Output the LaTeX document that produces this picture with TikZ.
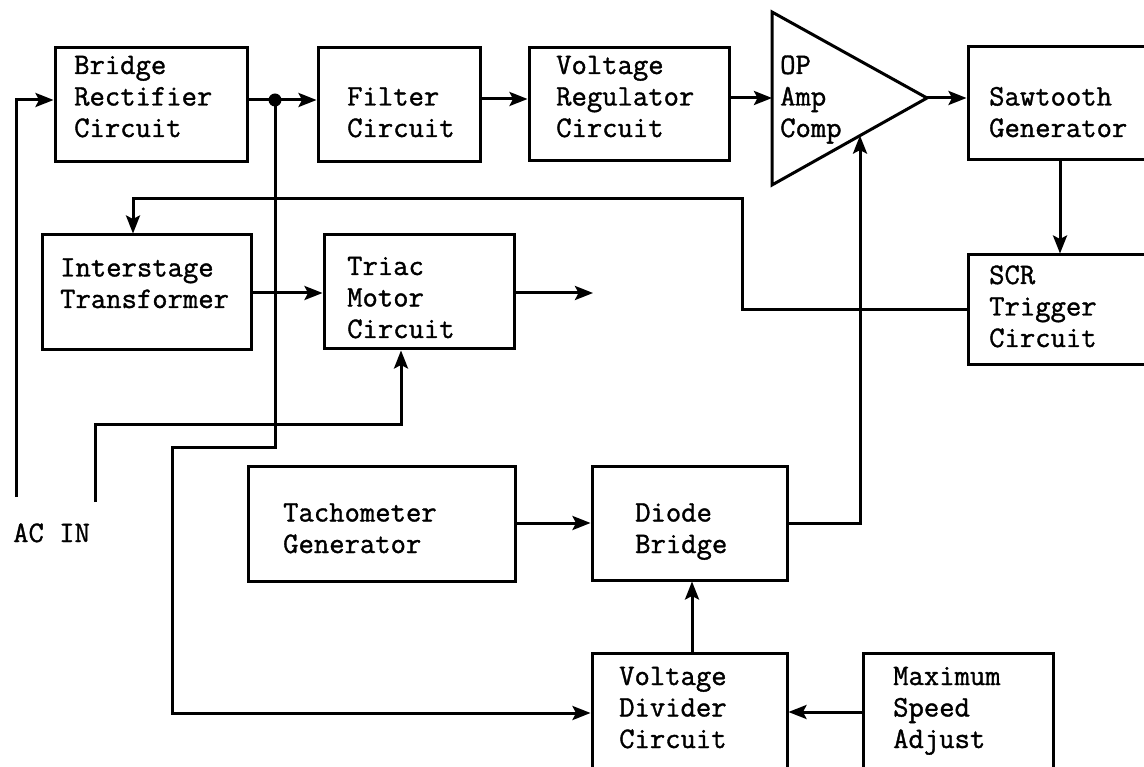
\documentclass[tikz,border=0pt]{standalone}
\usepackage{fontspec}
\newfontfamily\twfont{Latin Modern Mono}[FakeBold=1.2]
\usetikzlibrary{arrows.meta}
\tikzset{
  box/.style={draw, line width=3pt, inner sep=0pt, rectangle},
  lbl/.style={font=\twfont\fontsize{29.8}{31.5}\selectfont, align=left, anchor=base west, inner sep=0pt},
  conn/.style={line width=3pt},
  arr/.style={conn, -{Stealth[length=18pt,width=14pt,inset=3.5pt]}},
}
\begin{document}
\begin{tikzpicture}[x=1pt,y=-1pt]
\useasboundingbox (0,0) rectangle (1144,767);
% boxes
\node[box, minimum width=192pt, minimum height=114pt] (br) at (151,105) {};
\node[box, minimum width=162pt, minimum height=114pt] (fi) at (399,105) {};
\node[box, minimum width=200pt, minimum height=113pt] (vr) at (629,104.5) {};
\node[box, minimum width=192pt, minimum height=113pt] (st) at (1064,103.5) {};
\node[box, minimum width=192pt, minimum height=110pt] (scr) at (1064,310) {};
\node[box, minimum width=209pt, minimum height=115pt] (it) at (146.5,292.5) {};
\node[box, minimum width=190pt, minimum height=114pt] (tr) at (419,292) {};
\node[box, minimum width=267pt, minimum height=115pt] (tg) at (381.5,523.5) {};
\node[box, minimum width=195pt, minimum height=114pt] (db) at (689.5,523) {};
\node[box, minimum width=195pt, minimum height=137pt] (vd) at (689.5,721.5) {};
\node[box, minimum width=190pt, minimum height=137pt] (ms) at (958,721.5) {};
% op amp triangle
\coordinate (opTop) at (772,12);
\coordinate (opBotL) at (772,185);
\coordinate (opOut) at (927,98);
\coordinate (opIn) at (772,98);
\coordinate (opBot) at (860,135.6);
\draw[line width=3pt, line join=miter] (opTop) -- (opOut) -- (opBotL) -- cycle;
% texts (anchor = baseline of last line)
\node[lbl] (tbr) at (74,137) {Bridge\\Rectifier\\Circuit};
\node[lbl] (tfi) at (347,137) {Filter\\Circuit};
\node[lbl] (tvr) at (556,137) {Voltage\\Regulator\\Circuit};
\node[lbl] (top) at (780,137) {OP\\Amp\\Comp};
\node[lbl] (tst) at (989,137) {Sawtooth\\Generator};
\node[lbl] (tit) at (60,308) {Interstage\\Transformer};
\node[lbl] (ttr) at (347,338) {Triac\\Motor\\Circuit};
\node[lbl] (tscr) at (989,347) {SCR\\Trigger\\Circuit};
\node[lbl] (ttg) at (283,553) {Tachometer\\Generator};
\node[lbl] (tdb) at (635,553) {Diode\\Bridge};
\node[lbl] (tvd) at (619,748) {Voltage\\Divider\\Circuit};
\node[lbl] (tms) at (893,748) {Maximum\\Speed\\Adjust};
\node[lbl] (tac) at (13,542) {AC IN};
% helper coordinates
\coordinate (j) at (275,100);
\coordinate (ac1) at (16,497);
\coordinate (ac2) at (95,502);
\coordinate (sx) at (1060,0);
\coordinate (fb1) at (742,199);
\coordinate (fb2) at (133,199);
\coordinate (out) at (593,293);
\coordinate (jd1) at (275,447);
\coordinate (jd2) at (172,447);
\coordinate (jd3) at (172,713);
\coordinate (acr) at (95,425);
\coordinate (dbx) at (860,523);
% connectors
\draw[arr] (ac1) |- (br.west |- j);
\draw[arr] (br.east |- j) -- (fi.west |- j);
\fill (j) circle (6.5pt);
\draw[arr] (fi.east |- 0,99) -- (vr.west |- 0,99);
\draw[arr] (vr.east |- opIn) -- (opIn);
\draw[arr] (opOut) -- (st.west |- opOut);
\draw[arr] (st.south -| sx) -- (scr.north -| sx);
\draw[arr] (scr.west) -| (fb1) -- (fb2) -- (it.north -| fb2);
\draw[arr] (it.east |- out) -- (tr.west |- out);
\draw[arr] (tr.east |- out) -- (out);
\draw[arr] (ac2) -- (acr) -- (acr -| 401,0) -- (tr.south -| 401,0);
\draw[arr] (j) -- (jd1) -- (jd2) -- (jd3) -- (vd.west |- jd3);
\draw[arr] (tg.east |- dbx) -- (db.west |- dbx);
\draw[arr] (db.east |- dbx) -- (dbx) -- (opBot);
\draw[arr] (vd.north -| 692,0) -- (db.south -| 692,0);
\draw[arr] (ms.west |- 0,712) -- (vd.east |- 0,712);
\end{tikzpicture}
\end{document}
